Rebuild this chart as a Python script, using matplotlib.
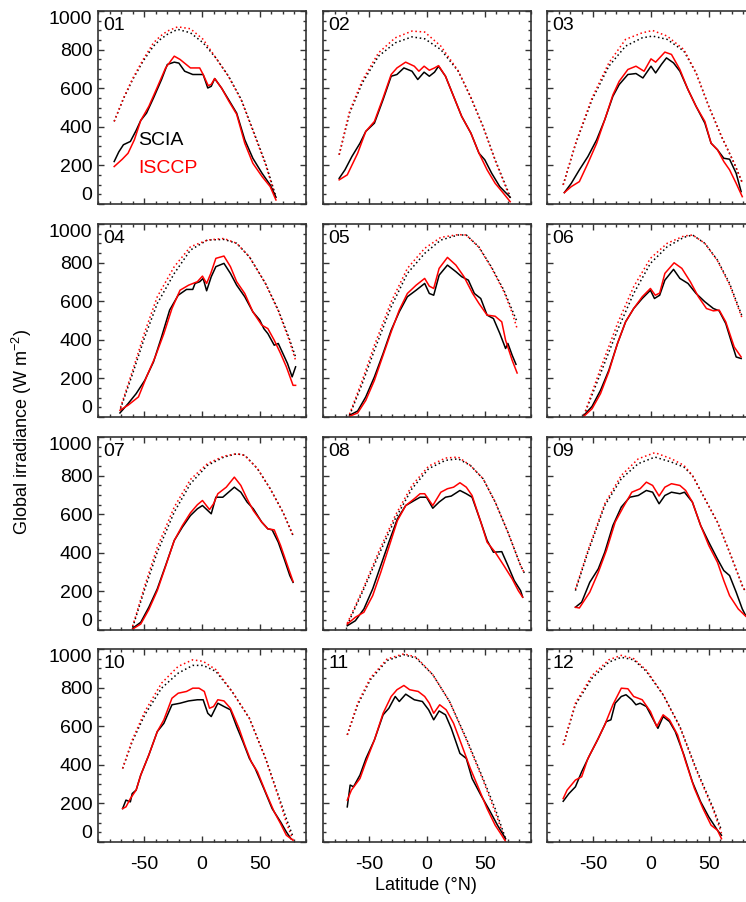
import matplotlib
matplotlib.use("Agg")
import matplotlib.pyplot as plt
from matplotlib.ticker import MultipleLocator

plt.rcParams['font.family'] = ['Liberation Sans', 'DejaVu Sans']
plt.rcParams['mathtext.fontset'] = 'custom'
plt.rcParams['mathtext.rm'] = 'Liberation Sans'

meses = ['01', '02', '03', '04', '05', '06', '07', '08', '09', '10', '11', '12']

# SCIA (negro, continua) - latitudes y valores
scia_lat = [
    [-76, -72, -68, -62, -57, -53, -48, -42, -35, -30, -24, -20, -15, -8, 1, 5, 8, 11, 17, 23, 30, 37, 44, 52, 59, 64],
    [-76, -71, -65, -58, -53, -45.5, -38, -31, -26, -20, -13, -8, -2.5, 2, 6.5, 10, 16, 23, 30, 38, 45, 50, 56, 63, 72],
    [-75, -69, -62, -54.6, -47, -40, -33, -27.5, -20, -13, -7, 0, 4, 9, 13.4, 19.5, 25, 32, 39, 46.6, 52, 57.5, 63, 68, 73.7, 78],
    [-71, -64, -57, -49.5, -42, -35, -28, -20.6, -13.4, -8, -6, -2, 1, 4, 8, 12, 19, 24.6, 30, 37, 44, 50, 53.5, 57, 62.5, 66, 70, 74, 78, 81],
    [-67, -60, -53, -45.5, -38, -31, -24, -17, -9.4, -2, 2, 5.8, 10.5, 17.7, 25, 30, 35.8, 41, 46.5, 52, 57.5, 63, 68, 70, 73.7, 77],
    [-58, -51, -43.7, -36.5, -29, -22, -15, -7.6, -0.5, 3, 7.5, 12, 19.5, 25, 32, 39, 46.6, 54, 59, 64.7, 70, 73.7, 78],
    [-60, -53, -46, -38.7, -31.5, -24, -17, -10, -4, 0.4, 5, 8, 12, 18, 23, 28, 33.6, 39, 44.4, 51.7, 57, 60.7, 66, 71.6, 76, 78.8],
    [-69, -62, -54.6, -47, -40, -33, -25.6, -18.4, -11, -6, -0.4, 5, 10.5, 16, 21, 28.5, 34, 39, 46.6, 52, 57.5, 64.7, 70, 75.5, 81, 82.8],
    [-65.4, -60, -53, -45.6, -40, -33, -25.7, -18.4, -11, -4, 1.4, 7, 12, 17.7, 25, 29, 35.8, 43, 50, 57.5, 63, 68, 73.7, 79, 82],
    [-68.7, -65.8, -62, -60.4, -57, -53, -46, -38.7, -33, -26, -19, -11.6, -4, 1, 5, 8, 13.7, 19, 24.6, 30, 35.4, 41, 46, 53.5, 60.7, 68, 73, 77],
    [-69, -66.5, -63.6, -58, -52.8, -45.5, -38, -33, -27.5, -24, -18.4, -11, -4, 1.4, 5.8, 10.5, 16, 21, 28.5, 34, 39, 46.6, 54, 61, 68],
    [-76, -71, -65.4, -60, -53, -45.6, -38.7, -34.7, -31, -25.7, -21.6, -16.6, -13, -9.4, -4, 1.4, 6, 10.5, 16, 21, 28.5, 35.8, 43, 50, 57.5, 61],
]
scia_val = [
    [220, 270, 307, 324, 381, 433, 471, 549, 645, 723, 735, 730, 688, 671, 671, 601, 610, 650, 600, 541, 471, 333, 237, 159, 99, 35],
    [133, 177, 246, 315, 376, 419, 541, 662, 671, 705, 688, 645, 683, 662, 683, 714, 662, 558, 454, 367, 263, 229, 159, 90, 35],
    [59, 107, 177, 246, 333, 437, 558, 619, 671, 676, 653, 714, 679, 723, 757, 731, 688, 593, 506, 419, 315, 281, 237, 232, 159, 64],
    [21, 69, 121, 190, 285, 415, 554, 631, 661, 661, 692, 701, 718, 654, 727, 779, 796, 744, 683, 623, 545, 502, 458, 432, 372, 381, 329, 277, 208, 260],
    [9, 31, 104, 208, 329, 450, 545, 623, 657, 692, 640, 631, 735, 787, 753, 727, 709, 640, 614, 528, 510, 433, 355, 381, 320, 273],
    [9, 55, 138, 242, 381, 493, 562, 614, 657, 614, 631, 709, 765, 718, 692, 640, 597, 562, 550, 484, 381, 311, 303],
    [9, 40, 118, 213, 334, 464, 533, 593, 628, 645, 619, 602, 688, 688, 714, 740, 714, 663, 628, 559, 524, 519, 455, 360, 282, 247],
    [22, 48, 109, 213, 334, 455, 576, 645, 671, 688, 688, 631, 663, 688, 694, 723, 706, 688, 559, 464, 403, 406, 334, 256, 204, 170],
    [118, 144, 247, 317, 403, 541, 637, 688, 697, 723, 714, 654, 697, 714, 706, 714, 663, 541, 455, 368, 308, 282, 196, 109, 74],
    [173, 217, 208, 251, 269, 347, 451, 572, 615, 711, 719, 731, 737, 737, 667, 650, 719, 702, 685, 598, 520, 433, 381, 277, 173, 104, 52, 17],
    [182, 295, 286, 347, 433, 529, 659, 693, 754, 728, 766, 737, 728, 685, 633, 679, 659, 589, 459, 433, 329, 243, 165, 87, 17],
    [211, 251, 286, 364, 451, 537, 624, 633, 719, 754, 763, 737, 711, 719, 702, 641, 589, 650, 624, 572, 451, 312, 208, 130, 61, 35],
]

# ISCCP (rojo, continua)
isccp_lat = [
    [-76, -69, -64, -58.5, -53, -46, -39, -31.5, -24, -19, -10, -2, 1, 5.4, 8, 11, 17, 23, 30, 37, 44, 52, 59, 64],
    [-76, -69, -60, -53, -45.5, -38, -31, -26, -18.5, -11, -7, -2.5, 2, 6.5, 10, 16, 23, 30, 38, 45, 52, 59, 65, 72],
    [-75, -69, -62, -54.6, -47, -40, -33, -27.5, -20, -13, -6, 0, 4, 12, 17.7, 25, 32, 39, 46.6, 52, 57.5, 63, 68, 73.7, 79],
    [-71, -64, -55, -48, -40.5, -33, -26, -19, -11.6, -4, 0.4, 4, 7.6, 12, 19, 24.6, 30, 37, 44, 51.7, 57, 62.5, 68, 73, 78.8, 81],
    [-67, -60, -53, -45.5, -38, -31, -24, -17, -9.4, -2, 2, 5.8, 10.5, 17.7, 25, 32, 39.5, 45, 52, 59, 64.7, 68, 73.7, 78],
    [-58, -51, -43.7, -36.5, -29, -22, -15, -7.6, -0.5, 3.7, 7.5, 12, 20, 26.7, 34, 41, 48, 54, 59, 64.7, 72, 78],
    [-60, -53, -46, -38.7, -31.5, -24, -17, -10, -4, 0.4, 6.5, 10, 13.7, 21, 28, 33.6, 39, 44.4, 51.7, 57, 62.5, 68, 73, 78.8],
    [-69, -62, -54.6, -47, -40, -33, -25.6, -18.4, -11, -6, -2, 5, 12, 17.7, 23, 28.5, 34, 39, 46.6, 52, 59, 66.5, 73.7, 79, 82.8],
    [-65.4, -62, -53, -45.6, -38.6, -31, -24, -16.6, -9.4, -4, 1.4, 7, 12, 17.7, 25, 30, 35.8, 43, 50, 57.5, 63, 68, 75.5, 82],
    [-68.7, -65.8, -62, -57, -53, -46, -38.7, -33, -26, -20.6, -13.4, -8, -2.6, 2, 6.5, 10, 13.7, 19, 24.6, 32, 37, 42.6, 48, 55, 62.5, 68, 73, 78.8],
    [-69, -65.4, -58, -52.8, -45.5, -38, -31, -26, -20, -15, -7.6, -2, 2, 5.8, 11, 16.6, 23, 30, 37.5, 44.8, 52, 59, 64.7, 68],
    [-76, -72.6, -65.4, -60, -54.6, -47, -40, -33, -25.7, -20, -15, -7.6, -0.5, 5, 10.5, 16, 23, 30, 37.6, 45, 52, 57.5, 61],
]
isccp_val = [
    [194, 232, 263, 333, 433, 506, 601, 705, 766, 749, 705, 705, 671, 613, 620, 650, 600, 535, 465, 315, 211, 142, 90, 21],
    [125, 151, 263, 376, 428, 550, 671, 705, 735, 714, 688, 714, 693, 705, 717, 662, 558, 454, 367, 263, 177, 107, 64, 12],
    [59, 90, 116, 211, 315, 437, 565, 636, 697, 714, 688, 752, 735, 787, 775, 697, 593, 506, 428, 315, 281, 220, 177, 107, 38],
    [35, 61, 104, 208, 311, 432, 562, 657, 683, 701, 730, 692, 744, 822, 834, 779, 701, 640, 545, 476, 458, 398, 329, 260, 164, 164],
    [4, 21, 86, 190, 320, 441, 554, 640, 683, 718, 678, 666, 770, 827, 787, 727, 640, 588, 528, 522, 493, 398, 294, 228],
    [4, 43, 121, 234, 381, 493, 562, 623, 666, 631, 642, 744, 799, 770, 701, 623, 562, 550, 554, 493, 363, 311],
    [5, 31, 106, 204, 330, 464, 541, 607, 649, 671, 624, 654, 706, 740, 792, 749, 680, 619, 559, 524, 519, 438, 351, 251],
    [31, 66, 92, 178, 299, 429, 567, 645, 680, 706, 706, 645, 714, 732, 740, 763, 740, 697, 559, 455, 403, 334, 265, 204, 170],
    [118, 114, 196, 299, 412, 559, 637, 714, 732, 766, 749, 694, 740, 758, 749, 723, 663, 541, 438, 351, 256, 178, 109, 71],
    [173, 182, 225, 269, 347, 451, 572, 633, 745, 771, 780, 797, 797, 780, 693, 702, 737, 731, 693, 589, 503, 416, 364, 260, 156, 95, 35, 9],
    [217, 269, 329, 416, 529, 667, 754, 789, 811, 789, 780, 754, 719, 667, 711, 685, 615, 503, 381, 277, 173, 87, 35, 3],
    [225, 269, 321, 338, 433, 520, 607, 711, 797, 794, 754, 737, 676, 598, 659, 633, 555, 416, 277, 173, 87, 61, 17],
]

# cielo despejado (punteadas): latitudes comunes, valores SCIA y ISCCP
clr_lat = [
    [-76, -68, -60, -51, -42, -36, -30, -21, -10, 1, 12, 23, 34, 44, 55, 64],
    [-76, -67, -56, -42, -27.5, -13, -2, 12, 27, 37.5, 48.5, 59, 72],
    [-76, -65, -51, -36.5, -22, -7.6, 1.4, 14, 28.5, 39, 50, 61, 72, 79],
    [-70.5, -60, -49.5, -38.7, -24, -10, 4.7, 19, 30, 41, 55, 66, 75, 81],
    [-67, -56, -45.5, -31, -17, -2, 12, 27, 34, 44.8, 55.6, 66.5, 73.7, 78],
    [-58, -43.7, -29, -15, -0.5, 14, 28.5, 36, 46.6, 57.5, 68, 79],
    [-60, -49.5, -38.7, -24, -10, 4.7, 19, 30, 37, 48, 59, 70, 78.8],
    [-69, -56, -42, -27.5, -13, 1.4, 16, 27, 37.5, 48.5, 59, 70, 81, 84.6],
    [-65.4, -54.6, -40, -25.7, -11, 3.4, 17.7, 28.5, 35.8, 46.6, 57.5, 68, 79, 82],
    [-68.7, -60.4, -49.5, -35, -20.6, -8, 1, 12, 26, 41, 55, 66, 73, 78.8],
    [-69, -60, -49, -34.6, -20, -9.4, 5, 19.5, 34, 48.5, 59, 68],
    [-76, -65.4, -51, -36.5, -25.7, -15, -4, 10.5, 25, 39, 54, 61],
]
scia_clr = [
    [428, 545, 645, 740, 818, 853, 879, 905, 887, 835, 757, 662, 541, 385, 211, 38],
    [255, 471, 627, 766, 835, 866, 856, 800, 688, 558, 402, 229, 38],
    [99, 315, 541, 714, 818, 861, 870, 853, 792, 679, 506, 350, 211, 110],
    [43, 225, 415, 588, 744, 865, 917, 920, 900, 830, 692, 554, 415, 311],
    [9, 173, 346, 571, 744, 848, 917, 943, 943, 882, 779, 657, 554, 493],
    [9, 225, 450, 640, 796, 882, 931, 943, 900, 813, 692, 519],
    [14, 213, 403, 611, 758, 853, 896, 913, 905, 836, 732, 611, 490],
    [26, 195, 386, 576, 732, 836, 879, 887, 853, 784, 663, 507, 334, 291],
    [204, 403, 645, 784, 862, 896, 870, 844, 801, 680, 559, 403, 230, 196],
    [381, 520, 659, 797, 875, 915, 915, 884, 780, 641, 433, 243, 121, 26],
    [555, 711, 841, 940, 970, 953, 867, 728, 537, 329, 173, 17],
    [503, 711, 849, 932, 957, 944, 884, 763, 598, 381, 173, 61],
]
isccp_clr = [
    [428, 548, 650, 748, 835, 870, 896, 918, 908, 853, 757, 660, 538, 380, 205, 30],
    [255, 480, 640, 783, 861, 896, 891, 818, 690, 558, 400, 225, 30],
    [99, 320, 550, 731, 853, 887, 899, 870, 800, 679, 506, 350, 211, 110],
    [50, 242, 441, 623, 779, 882, 917, 925, 900, 830, 690, 550, 405, 294],
    [15, 190, 372, 597, 770, 874, 931, 945, 943, 880, 775, 650, 540, 458],
    [9, 251, 484, 675, 822, 900, 938, 943, 900, 810, 685, 510],
    [20, 230, 429, 637, 780, 862, 901, 913, 905, 836, 732, 611, 490],
    [35, 204, 403, 593, 749, 849, 891, 896, 853, 784, 663, 507, 334, 291],
    [212, 412, 655, 801, 887, 919, 887, 853, 801, 680, 559, 403, 230, 196],
    [381, 528, 676, 823, 910, 944, 936, 893, 780, 641, 433, 235, 100, 9],
    [555, 720, 850, 948, 975, 958, 867, 728, 530, 320, 155, 5],
    [503, 720, 863, 944, 967, 950, 890, 763, 595, 375, 165, 45],
]

ancho, alto = 746, 902
fig = plt.figure(figsize=(ancho / 100, alto / 100), dpi=100)

# posiciones de los paneles en pixeles (borde izquierdo / borde inferior)
col_px = [98, 323, 547]
fila_px = [204, 417, 630, 842]
w_px, h_px = 208, 193

punteado = (0, (1, 1.8))
fs = 14

for i, mes in enumerate(meses):
    fila, col = divmod(i, 3)
    ax = fig.add_axes([col_px[col] / ancho, 1 - fila_px[fila] / alto, w_px / ancho, h_px / alto])

    ax.plot(clr_lat[i], scia_clr[i], color='black', lw=1.1, ls=punteado)
    ax.plot(clr_lat[i], isccp_clr[i], color='red', lw=1.1, ls=punteado)
    ax.plot(scia_lat[i], scia_val[i], color='black', lw=1.1)
    ax.plot(isccp_lat[i], isccp_val[i], color='red', lw=1.1)

    ax.set_xlim(-90, 90)
    ax.set_ylim(0, 1000)
    ax.xaxis.set_major_locator(MultipleLocator(50))
    ax.xaxis.set_minor_locator(MultipleLocator(10))
    ax.yaxis.set_major_locator(MultipleLocator(200))
    ax.yaxis.set_minor_locator(MultipleLocator(50))
    ax.tick_params(which='both', direction='in', top=True, right=True, width=1.0, colors='#333333',
                   labelcolor='black', labelsize=fs)
    ax.tick_params(which='major', length=4.5)
    ax.tick_params(which='minor', length=2.5)
    ax.tick_params(axis='x', pad=10)
    ax.tick_params(axis='y', pad=4)
    for s in ax.spines.values():
        s.set_linewidth(1.2)
        s.set_color('#333333')

    ax.set_xticks([-50, 0, 50])
    if fila == 3:
        ax.set_xticklabels(['-50', '0', '50'])
    else:
        ax.set_xticklabels([])
    ax.set_yticks([0, 200, 400, 600, 800, 1000])
    if col == 0:
        ax.set_yticklabels(['0', '200', '400', '600', '800', '1000'])
        etq = ax.get_yticklabels()
        etq[0].set_va('bottom')
        etq[-1].set_va('top')
    else:
        ax.set_yticklabels([])

    ax.text(0.025, 0.97, mes, transform=ax.transAxes, ha='left', va='top', fontsize=fs)

    if i == 0:
        ax.text(0.195, 0.33, 'SCIA', transform=ax.transAxes, color='black', fontsize=fs, va='center')
        ax.text(0.195, 0.185, 'ISCCP', transform=ax.transAxes, color='red', fontsize=fs, va='center')

fig.text(22 / ancho, 1 - 432 / alto, r'Global irradiance (W m$^{\mathrm{-2}}$)', rotation=90,
         ha='center', va='center', fontsize=13)
fig.text(426 / ancho, 1 - 885 / alto, 'Latitude (°N)', ha='center', va='center', fontsize=13)

fig.savefig('out.png', dpi=100)
